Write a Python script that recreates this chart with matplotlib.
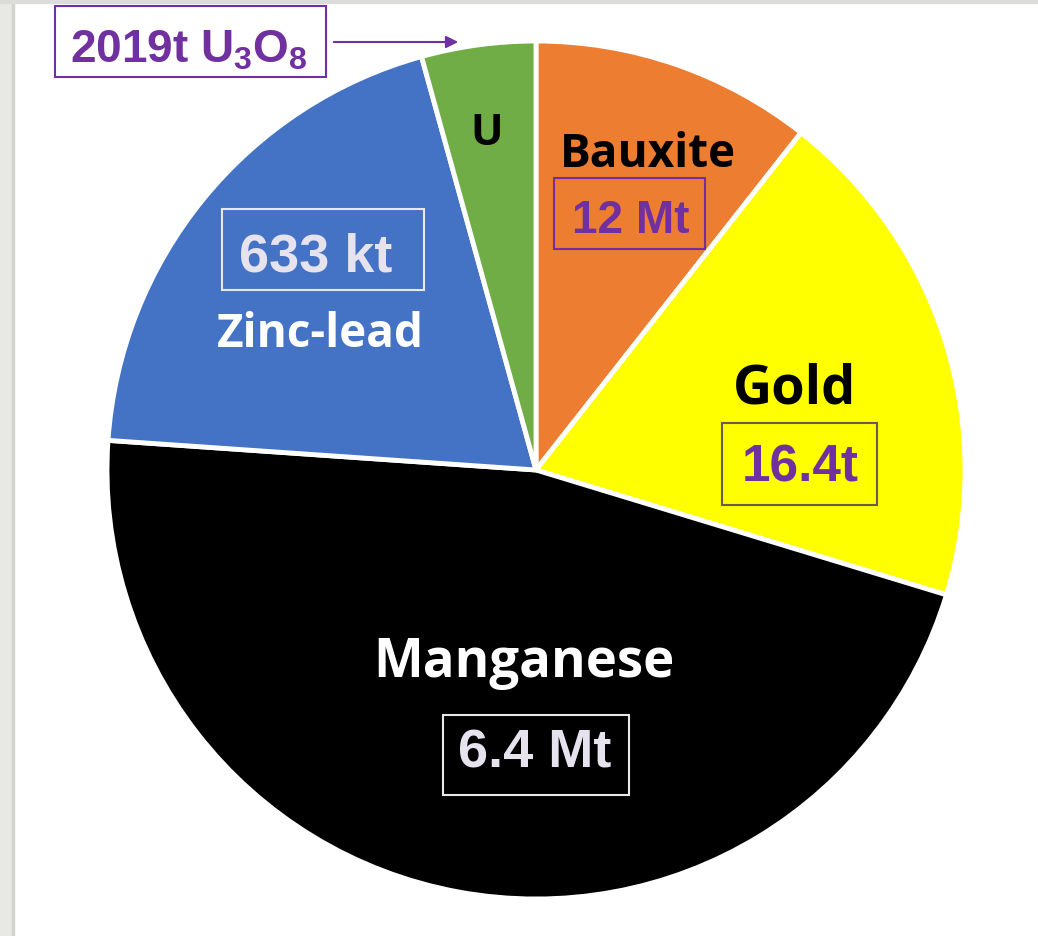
import numpy as np
import matplotlib.pyplot as plt
from matplotlib.patches import Rectangle

plt.rcParams['mathtext.fontset'] = 'custom'
plt.rcParams['mathtext.rm'] = 'Liberation Sans:bold'
plt.rcParams['mathtext.bf'] = 'Liberation Sans:bold'
plt.rcParams['mathtext.default'] = 'regular'

# =============================================================================
# Data (share of the pie as drawn, clockwise from 12 o'clock)
minerals = ["Bauxite", "Gold", "Manganese", "Zinc-lead", "U"]
shares = [10.6, 19.1, 46.4, 19.6, 4.3]
amounts = ["12 Mt", "16.4t", "6.4 Mt", "633 kt", None]
uranium_note = "2019t U$_3$O$_8$"

colors = ["#ED7D31", "#FFFF00", "#000000", "#4472C4", "#70AD47"]
name_colors = ["black", "black", "white", "white", "black"]
amount_colors = ["#7030A0", "#7030A0", "#E6E3EF", "#E6E3EF", None]
box_colors = ["#7030A0", "#6B5B4B", "#E8E8E8", "#E8E8E8", None]
purple = "#7030A0"

W, H = 1038, 937

def Y(py):
    return H - py

# layout in pixels (x, baseline y)
name_pos = [(648, 167), (795, 404), (524, 677), (320, 347), (487, 145)]
name_size = [33, 39, 38, 33, 31]
amount_pos = [(631, 233), (800, 482), (535, 768), (316, 272), None]
amount_size = [33, 37, 39, 39, None]
boxes = [(554, 179, 705, 250), (722, 424, 877, 506),
         (443, 716, 629, 796), (222, 210, 424, 291), None]

# =============================================================================
fig = plt.figure(figsize=(W / 100, H / 100), dpi=100)
ax = fig.add_axes([0, 0, 1, 1])

ax.pie(shares, colors=colors, startangle=90, counterclock=False,
       center=(536, Y(471)), radius=429, frame=True,
       wedgeprops=dict(edgecolor="white", linewidth=3.5))

ax.set_xlim(0, W)
ax.set_ylim(0, H)
ax.set_aspect("equal")
ax.axis("off")

# grey window frame
ax.add_patch(Rectangle((0, 0), 13, H, color="#E8E8E4", zorder=0))
ax.add_patch(Rectangle((12, 0), 2, H, color="#D2D2CE", zorder=0))
ax.add_patch(Rectangle((0, Y(4)), W, 4, color="#DCDCDA", zorder=0))

for i, name in enumerate(minerals):
    x, y = name_pos[i]
    ax.text(x, Y(y), name, ha="center", va="baseline", family="Open Sans",
            weight="bold", fontsize=name_size[i], color=name_colors[i])
    if amounts[i] is not None:
        x, y = amount_pos[i]
        ax.text(x, Y(y), amounts[i], ha="center", va="baseline",
                family="Liberation Sans", weight="bold",
                fontsize=amount_size[i], color=amount_colors[i])
        x0, y0, x1, y1 = boxes[i]
        ax.add_patch(Rectangle((x0, Y(y1)), x1 - x0, y1 - y0, fill=False,
                               edgecolor=box_colors[i], lw=1.5))

# uranium annotation
ax.text(70, Y(62), uranium_note, ha="left", va="baseline",
        family="Liberation Sans", weight="bold", fontsize=33, color=purple)
ax.add_patch(Rectangle((55, Y(78)), 271, 71, fill=False, edgecolor=purple, lw=1.5))
ax.annotate("", xy=(461, Y(43)), xytext=(331, Y(43)),
            arrowprops=dict(arrowstyle="-|>", color=purple, lw=1.5,
                            mutation_scale=18))

fig.savefig("out.png", dpi=100)
